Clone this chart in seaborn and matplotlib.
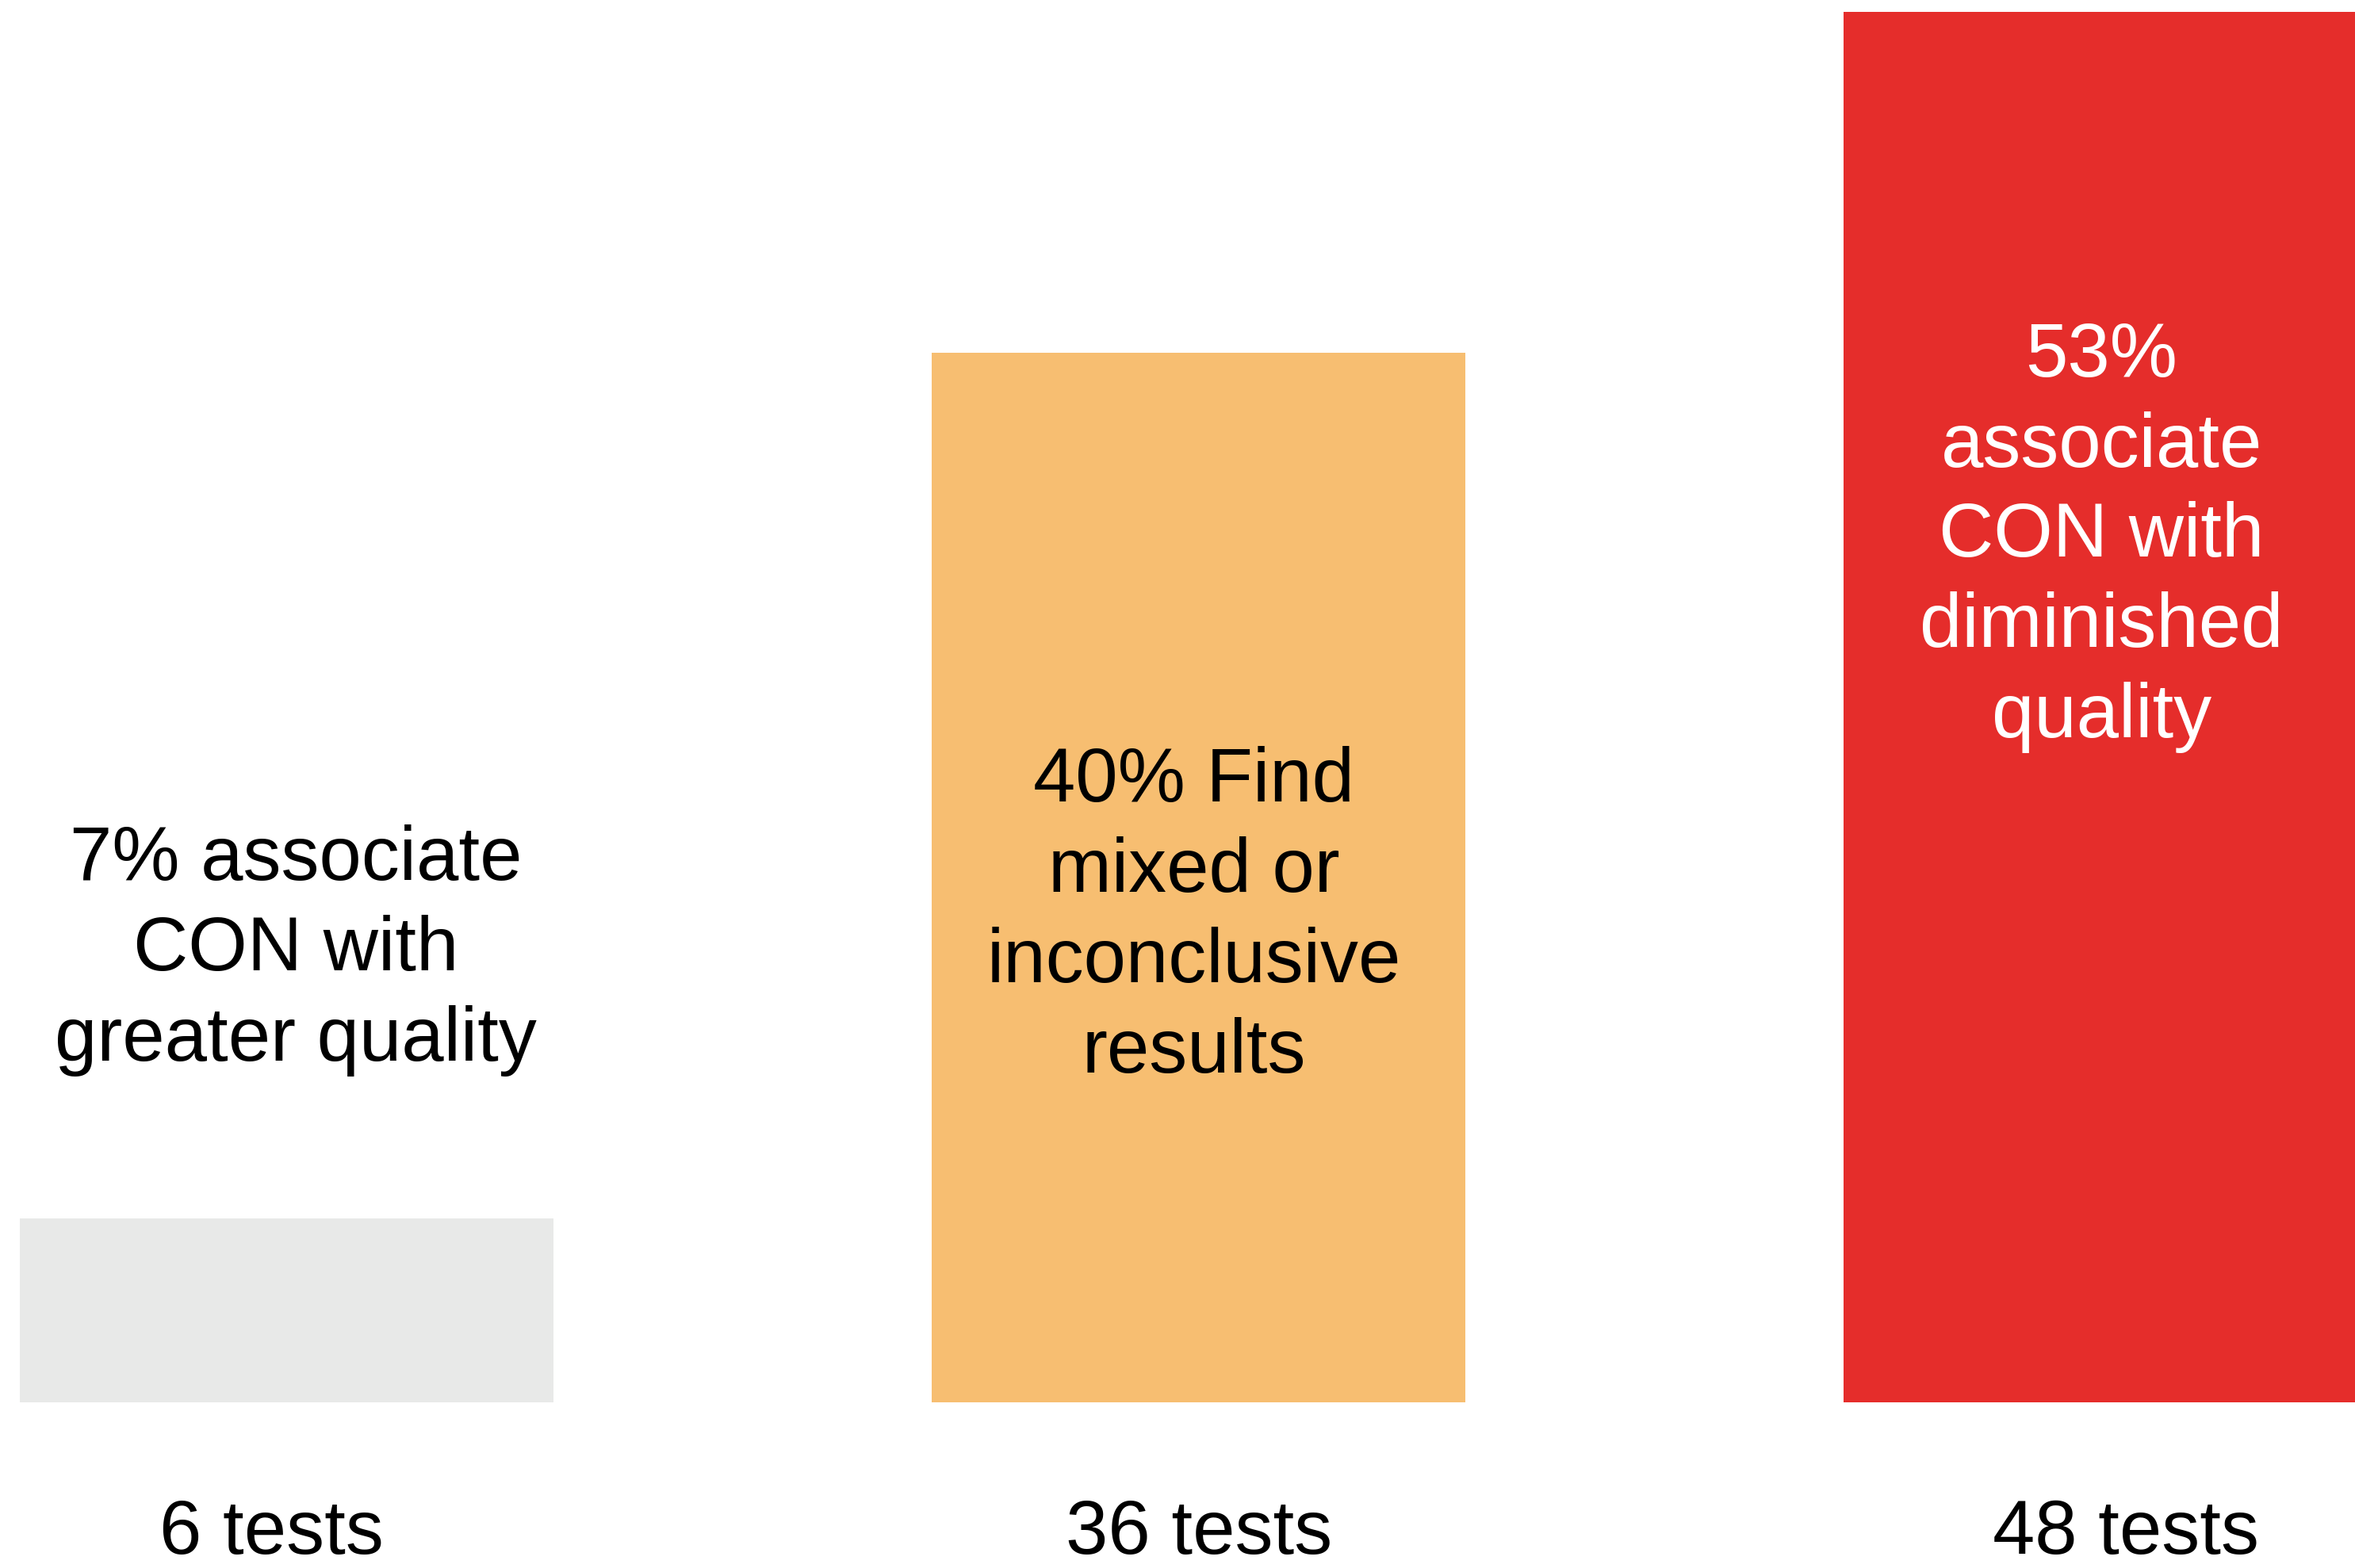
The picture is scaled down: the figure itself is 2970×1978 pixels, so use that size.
import matplotlib
matplotlib.use("Agg")
import matplotlib.pyplot as plt
import seaborn as sns
import pandas as pd

# Share of tests by finding, with test counts
findings = ["greater quality", "mixed or inconclusive", "diminished quality"]
percent = [7, 40, 53]
tests = [6, 36, 48]
bar_colors = ["#E8E9E8", "#F7BE71", "#E52D2B"]
text_colors = ["black", "black", "white"]
captions = [
    ["7% associate", "CON with", "greater quality"],
    ["40% Find", "mixed or", "inconclusive", "results"],
    ["53%", "associate", "CON with", "diminished", "quality"],
]

df = pd.DataFrame({"finding": findings, "percent": percent})

sns.set_theme(style="white")
plt.rcParams["font.family"] = ["Liberation Sans", "DejaVu Sans"]

fig = plt.figure(figsize=(29.70, 19.78), dpi=100)
ax = fig.add_axes([0, 0, 1, 1])

sns.barplot(
    data=df, x="finding", y="percent", hue="finding",
    palette=bar_colors, order=findings, hue_order=findings,
    width=0.585, linewidth=0, saturation=1, legend=False, ax=ax,
)

ax.set_xlim(-0.3145, 2.268)
ax.set_ylim(-6.31, 53.44)
ax.axis("off")

FS = 69
LINE_GAP = 82  # points between caption baselines

# caption block: first-line baseline (data y) and horizontal nudge
caption_top = [19.9, 22.9, 39.1]
caption_dx = [0.01, -0.005, -0.01]
for i, lines in enumerate(captions):
    for j, line in enumerate(lines):
        ax.annotate(
            line, xy=(i + caption_dx[i], caption_top[i]),
            xytext=(0, -j * LINE_GAP), textcoords="offset points",
            ha="center", va="baseline", fontsize=FS, color=text_colors[i],
        )

# test counts under each bar
count_dx = [-0.017, 0.0, 0.017]
for i, n in enumerate(tests):
    ax.text(i + count_dx[i], -5.77, f"{n} tests", ha="center", va="baseline",
            fontsize=FS, color="black")

fig.savefig("out.png", dpi=100, facecolor="white")
